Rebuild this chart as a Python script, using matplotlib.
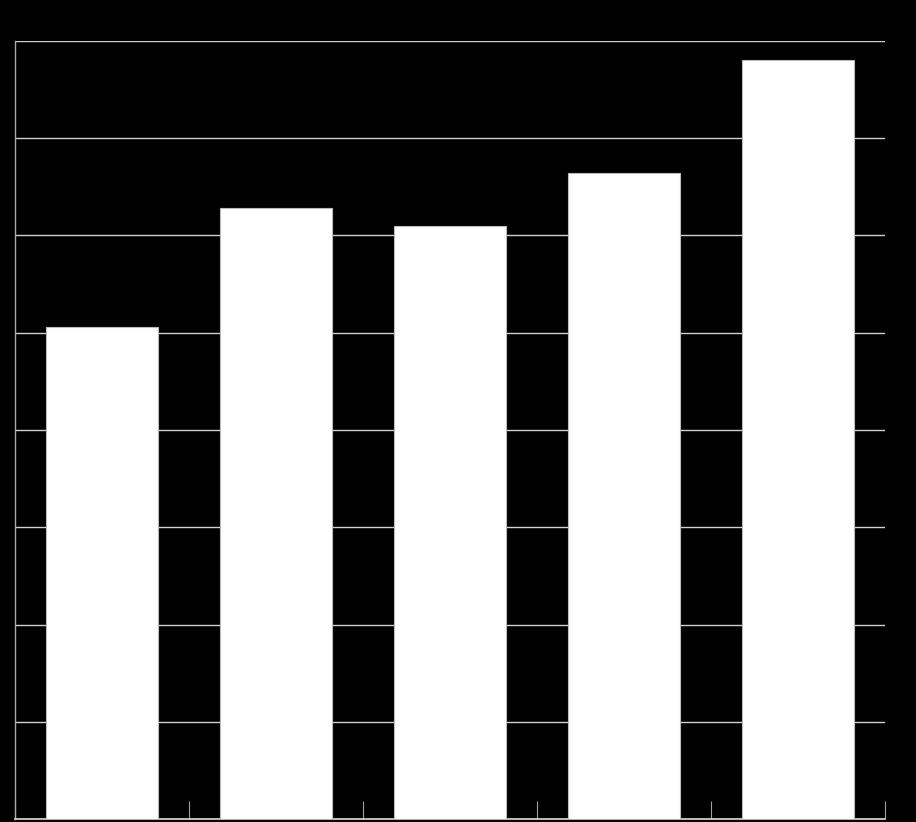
import numpy as np
import matplotlib
matplotlib.use("Agg")
import matplotlib.pyplot as plt

categories = ["A", "B", "C", "D", "E"]
values = [5.06, 6.28, 6.10, 6.64, 7.80]
y_ticks = [0, 1, 2, 3, 4, 5, 6, 7, 8]

fig = plt.figure(figsize=(9.16, 8.22), dpi=100, facecolor="black")
ax = fig.add_axes([15 / 916, 3 / 822, 870 / 916, 778 / 822])
ax.set_facecolor("black")

x = np.arange(len(categories))
ax.bar(x, values, width=0.64, color="white", edgecolor="#bbbbbb", linewidth=0.8, zorder=3)

ax.set_xlim(-0.5, len(categories) - 0.5)
ax.set_ylim(0, 8)
ax.set_yticks(y_ticks)
ax.set_yticklabels([str(v) for v in y_ticks], color="black", fontsize=9)
ax.yaxis.grid(True, color="#d0d0d0", linewidth=1.0, zorder=1)
ax.tick_params(axis="y", length=0, pad=2)

# no visible category labels in the reference; boundary ticks point inwards
ax.set_xticks(x)
ax.set_xticklabels([])
ax.tick_params(axis="x", which="major", length=0)
ax.set_xticks(np.arange(-0.5, len(categories)), minor=True)
ax.tick_params(axis="x", which="minor", direction="in", length=13, color="#a0a0a0", width=0.8)

for side in ["top", "right"]:
    ax.spines[side].set_visible(False)
ax.spines["left"].set_color("#a8a8a8")
ax.spines["bottom"].set_color("#d8d8d8")
ax.spines["left"].set_linewidth(1.0)
ax.spines["bottom"].set_linewidth(1.2)

fig.savefig("out.png", dpi=100, facecolor="black")
